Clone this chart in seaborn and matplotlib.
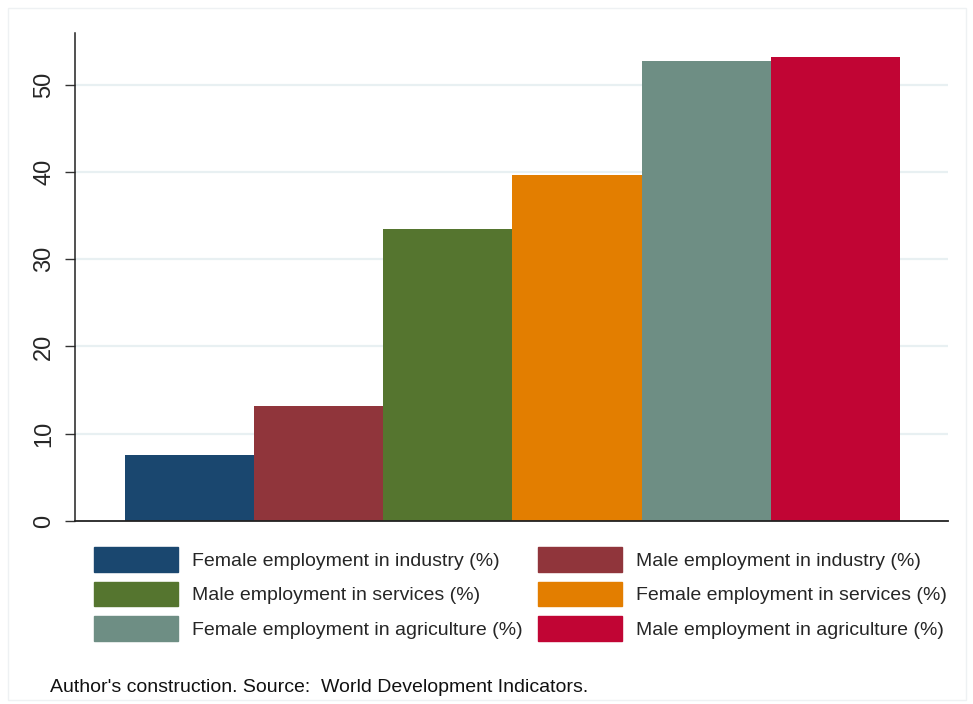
import matplotlib
matplotlib.use("Agg")
import matplotlib.pyplot as plt
import seaborn as sns
import pandas as pd
from matplotlib.patches import Rectangle, Patch

# data
labels = [
    "Female employment in industry (%)",
    "Male employment in industry (%)",
    "Male employment in services (%)",
    "Female employment in services (%)",
    "Female employment in agriculture (%)",
    "Male employment in agriculture (%)",
]
values = [7.6, 13.2, 33.5, 39.6, 52.7, 53.1]
colors = ["#1a476f", "#90353b", "#55752f", "#e37e00", "#6e8e84", "#c10534"]
yticks = [0, 10, 20, 30, 40, 50]

sns.set_theme(style="white")
plt.rcParams["font.family"] = ["Liberation Sans", "DejaVu Sans"]

df = pd.DataFrame({"label": labels, "value": values})

fig = plt.figure(figsize=(9.73, 7.04), dpi=100)
ax = fig.add_axes([75 / 973, 1 - 521 / 704, (948 - 75) / 973, (521 - 33) / 704])

sns.barplot(data=df, x="label", y="value", hue="label", palette=colors,
            width=1.0, dodge=False, legend=False, ax=ax, saturation=1,
            linewidth=0)

ax.set_xlim(-0.885, 5.87)
ax.set_ylim(0, 55.9)
ax.set_yticks(yticks)
ax.set_yticklabels([str(t) for t in yticks], rotation=90, va="center", fontsize=17)
ax.set_xticks([])
ax.set_xlabel("")
ax.set_ylabel("")
ax.tick_params(axis="y", direction="out", length=7.2, width=1.0, color="#333333",
               pad=7, left=True)
for t in yticks[1:]:
    ax.axhline(t, color="#e8f0f2", lw=1.6, zorder=0)

for side in ["top", "right"]:
    ax.spines[side].set_visible(False)
ax.spines["left"].set_color("#222222")
ax.spines["left"].set_linewidth(1.1)
ax.spines["bottom"].set_color("#222222")
ax.spines["bottom"].set_linewidth(1.3)

# legend in two columns, row order like the reference
handles = [Patch(facecolor=c, edgecolor=c) for c in colors]
legend_kw = dict(frameon=False, fontsize=14, handlelength=4.32, handleheight=1.59,
                 handletextpad=0.7, labelspacing=0.5, borderpad=0,
                 borderaxespad=0, loc="upper left")
fig.legend(handles[0::2], labels[0::2], bbox_to_anchor=(94 / 973, 1 - 547 / 704),
           **legend_kw)
fig.legend(handles[1::2], labels[1::2], bbox_to_anchor=(538 / 973, 1 - 547 / 704),
           **legend_kw)

fig.text(50 / 973, 1 - 688 / 704, "Author's construction. Source:  World Development Indicators.",
         fontsize=14, va="center", ha="left", color="#111111")

fig.patches.append(Rectangle((8 / 973, 4 / 704), 958 / 973, 692 / 704,
                             transform=fig.transFigure, fill=False,
                             edgecolor="#eef1f3", lw=1.0))

fig.savefig("out.png", dpi=100)
